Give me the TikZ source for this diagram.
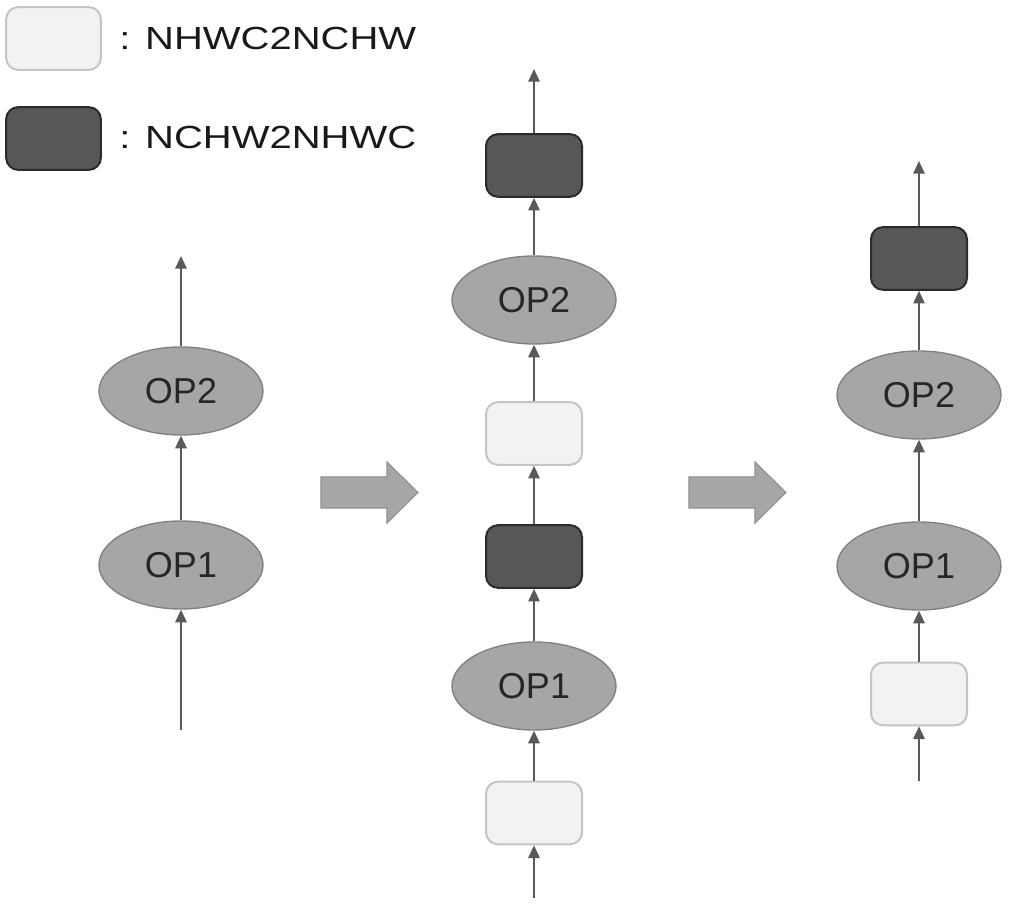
\documentclass[tikz,border=0pt]{standalone}
\usepackage{fontspec}
\setmainfont{Liberation Sans}
\newfontfamily\legfont[FakeStretch=1.25]{Liberation Sans}
\usetikzlibrary{arrows.meta,shapes.geometric}
\definecolor{opfill}{HTML}{A6A6A6}
\definecolor{opdraw}{HTML}{808080}
\definecolor{darkfill}{HTML}{575757}
\definecolor{darkdraw}{HTML}{2B2B2B}
\definecolor{lightfill}{HTML}{F2F2F2}
\definecolor{lightdraw}{HTML}{C4C4C4}
\definecolor{lnk}{HTML}{595959}
\definecolor{bigfill}{HTML}{A6A6A6}
\definecolor{bigdraw}{HTML}{8F8F8F}
\tikzset{
  op/.style={ellipse, draw=opdraw, fill=opfill, line width=1pt, minimum width=123pt, minimum height=66pt, inner sep=0pt, font=\fontsize{27}{30}\selectfont, text=black!85},
  darkbox/.style={rectangle, rounded corners=9pt, draw=darkdraw, fill=darkfill, line width=1.5pt, minimum width=72pt, minimum height=47pt, inner sep=0pt},
  lightbox/.style={rectangle, rounded corners=9pt, draw=lightdraw, fill=lightfill, line width=1.5pt, minimum width=72pt, minimum height=47pt, inner sep=0pt},
  conn/.style={draw=lnk, line width=1.5pt, -{Triangle[width=8.5pt,length=9.5pt]}},
  legtext/.style={anchor=west, font=\legfont\fontsize{24}{27}\selectfont, text=black!90, inner sep=0pt},
  bigarrow/.style={fill=bigfill, draw=bigdraw, line width=0.8pt}
}
\begin{document}
\begin{tikzpicture}[x=0.75pt,y=-0.75pt]
\useasboundingbox (0,0) rectangle (1015,905);
% legend
\node[lightbox, minimum width=71pt] (legl) at (53.5,38.5) {};
\node[darkbox, minimum width=71pt] (legd) at (53.5,138.5) {};
\node[legtext] (legltxt) at (119,38) {: NHWC2NCHW};
\node[legtext] (legdtxt) at (119,137) {: NCHW2NHWC};
% left column
\coordinate (Ltop) at (181,256);
\coordinate (Lbot) at (181,730);
\node[op] (Lop2) at (181,391) {OP2};
\node[op] (Lop1) at (181,565) {OP1};
\draw[conn] (Lbot) -- (Lop1);
\draw[conn] (Lop1) -- (Lop2);
\draw[conn] (Lop2) -- (Ltop);
% big arrows
\path[bigarrow] (321,477) -- (387,477) -- (387,462) -- (418,492.5) -- (387,523) -- (387,508) -- (321,508) -- cycle;
\path[bigarrow] (689,477) -- (755,477) -- (755,462) -- (786,492.5) -- (755,523) -- (755,508) -- (689,508) -- cycle;
% middle column
\coordinate (Mtop) at (534,69);
\coordinate (Mbot) at (534,898);
\node[darkbox] (Md2) at (534,165.5) {};
\node[op] (Mop2) at (534,300) {OP2};
\node[lightbox] (Ml2) at (534,433.5) {};
\node[darkbox] (Md1) at (534,556.5) {};
\node[op] (Mop1) at (534,686) {OP1};
\node[lightbox] (Ml1) at (534,813) {};
\draw[conn] (Mbot) -- (Ml1);
\draw[conn] (Ml1) -- (Mop1);
\draw[conn] (Mop1) -- (Md1);
\draw[conn] (Md1) -- (Ml2);
\draw[conn] (Ml2) -- (Mop2);
\draw[conn] (Mop2) -- (Md2);
\draw[conn] (Md2) -- (Mtop);
% right column
\coordinate (Rtop) at (919,161);
\coordinate (Rbot) at (919,781);
\node[darkbox] (Rd) at (919,258.5) {};
\node[op] (Rop2) at (919,395) {OP2};
\node[op] (Rop1) at (919,566) {OP1};
\node[lightbox] (Rl) at (919,694) {};
\draw[conn] (Rbot) -- (Rl);
\draw[conn] (Rl) -- (Rop1);
\draw[conn] (Rop1) -- (Rop2);
\draw[conn] (Rop2) -- (Rd);
\draw[conn] (Rd) -- (Rtop);
\end{tikzpicture}
\end{document}
